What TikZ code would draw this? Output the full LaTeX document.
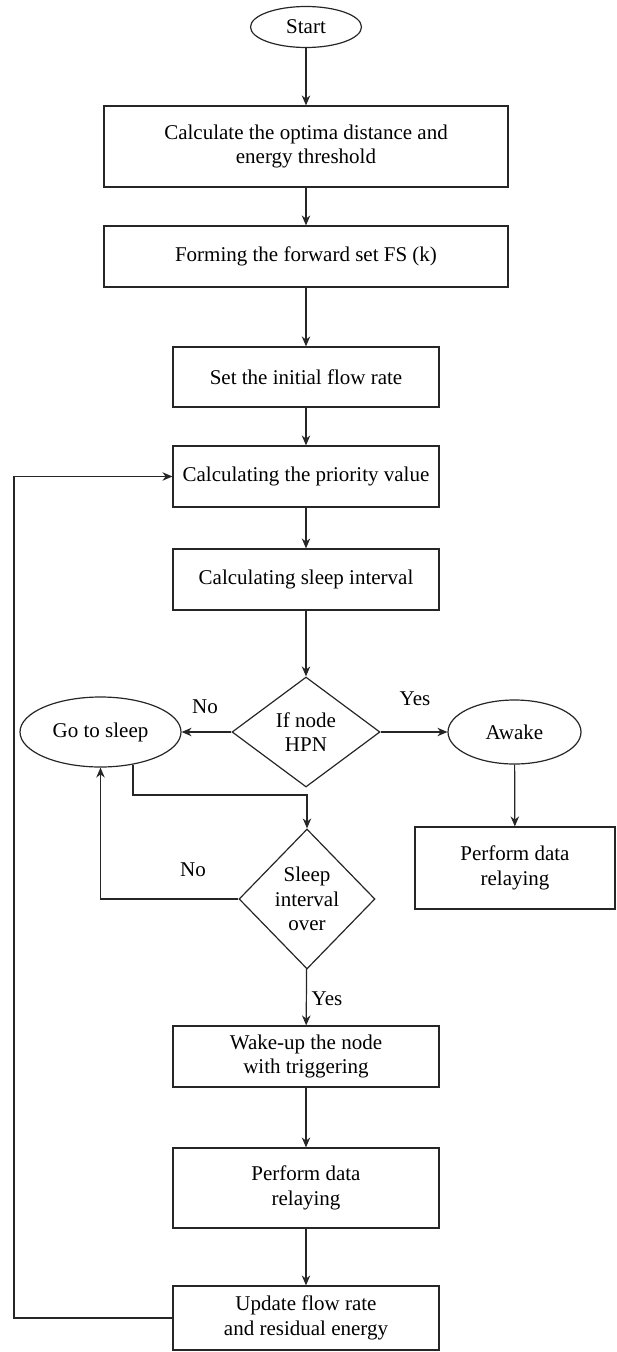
\documentclass[tikz,border=0pt]{standalone}
\usepackage{fontspec}
\setmainfont{Liberation Serif}
\usepackage{tikz}
\usetikzlibrary{arrows.meta, positioning, shapes.geometric}
\tikzset{
  procnode/.style={rectangle,draw=black!85,line width=1.2pt,inner sep=0pt,align=center,minimum width=266pt,minimum height=61pt},
  widenode/.style={procnode,minimum width=404pt},
  ovalnode/.style={ellipse,draw=black!85,line width=1.2pt,inner sep=0pt,align=center},
  decnode/.style={diamond,draw=black!85,line width=1.2pt,inner sep=0pt,align=center},
  flowedge/.style={-{Stealth[length=10pt,width=8.5pt]},line width=1.2pt,black!85},
  lbl/.style={inner sep=1pt},
}

\begin{document}
\begin{tikzpicture}[x=1pt,y=-1pt,font=\fontsize{21}{24.5}\selectfont]
  \useasboundingbox (0,0) rectangle (616,1352);
  \node[ovalnode,minimum width=111pt,minimum height=41pt] (nStart) at (306,27) {Start};
  \node[widenode,minimum height=81pt] (nCalc) at (306,146.5) {Calculate the optima distance and\\energy threshold};
  \node[widenode] (nForm) at (306,256.5) {Forming the forward set FS (k)};
  \node[procnode,minimum height=60pt] (nInit) at (306,377) {Set the initial flow rate};
  \node[procnode] (nPrio) at (306,476.5) {Calculating the priority value};
  \node[procnode] (nSleep) at (306,579.5) {Calculating sleep interval};
  \node[decnode,minimum width=148pt,minimum height=110pt,aspect=1.35] (nHPN) at (306,732) {If node\\HPN};
  \node[ovalnode,minimum width=161pt,minimum height=70pt] (nGoSleep) at (100.5,732) {Go to sleep};
  \node[ovalnode,minimum width=133pt,minimum height=64pt] (nAwake) at (514.5,732) {Awake};
  \node[procnode,minimum width=200pt,minimum height=82pt] (nRelayR) at (515,868) {Perform data\\relaying};
  \node[decnode,minimum width=136pt,minimum height=140pt] (nOver) at (307,899) {Sleep\\interval\\over};
  \node[procnode] (nWake) at (306,1056.5) {Wake-up the node\\with triggering};
  \node[procnode,minimum height=80pt] (nRelay) at (306,1188) {Perform data\\relaying};
  \node[procnode,minimum height=64pt] (nUpdate) at (306,1318) {Update flow rate\\and residual energy};
  \coordinate (cJog) at (200,795);
  \coordinate (cLoop) at (14,1318);
  \draw[flowedge] (nStart) -- (nCalc);
  \draw[flowedge] (nCalc) -- (nForm);
  \draw[flowedge] (nForm) -- (nInit);
  \draw[flowedge] (nInit) -- (nPrio);
  \draw[flowedge] (nPrio) -- (nSleep);
  \draw[flowedge] (nSleep) -- (nHPN);
  \draw[flowedge] (nHPN.west) -- (nGoSleep.east);
  \draw[flowedge] (nHPN.east) -- (nAwake.west);
  \draw[flowedge] (nAwake) -- (nRelayR);
  \draw[flowedge] (nGoSleep.-45) |- (cJog) -| (nOver.north);
  \draw[flowedge] (nOver.west) -| (nGoSleep.south);
  \draw[flowedge] (nOver) -- (nWake);
  \draw[flowedge] (nWake) -- (nRelay);
  \draw[flowedge] (nRelay) -- (nUpdate);
  \draw[flowedge] (nUpdate.west) -- (cLoop) |- (nPrio.west);
  \node[lbl] (tNo1) at (205,707) {No};
  \node[lbl] (tYes1) at (415,699) {Yes};
  \node[lbl] (tNo2) at (193,870) {No};
  \node[lbl] (tYes2) at (327,999) {Yes};
\end{tikzpicture}
\end{document}
